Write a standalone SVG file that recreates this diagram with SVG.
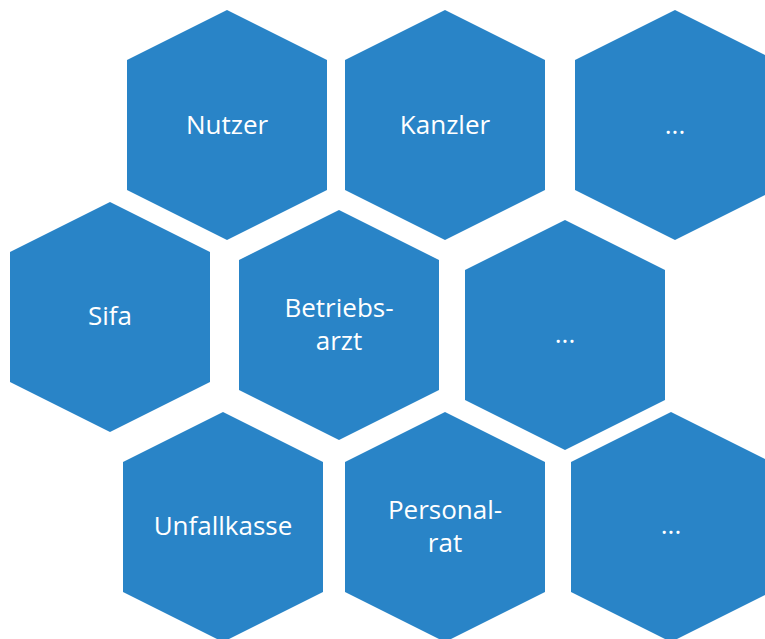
<svg xmlns="http://www.w3.org/2000/svg" width="765" height="639" viewBox="0 0 765 639">
<defs>
<style>
.hex{fill:#2984C7;}
.lbl{fill:#ffffff;font-family:"Open Sans","Liberation Sans",sans-serif;font-size:26px;text-anchor:middle;}
</style>
<polygon id="hexshape" points="0,-115 100,-65 100,65 0,115 -100,65 -100,-65"/>
</defs>
<rect width="765" height="639" fill="#ffffff"/>
<g id="connectors"/>
<g id="nutzer" transform="translate(227,125)"><use href="#hexshape" class="hex"/><text class="lbl" x="0" y="9">Nutzer</text></g>
<g id="kanzler" transform="translate(445,125)"><use href="#hexshape" class="hex"/><text class="lbl" x="0" y="9">Kanzler</text></g>
<g id="more1" transform="translate(675,125)"><use href="#hexshape" class="hex"/><text class="lbl" x="0" y="9">...</text></g>
<g id="sifa" transform="translate(110,317)"><use href="#hexshape" class="hex"/><text class="lbl" x="0" y="8">Sifa</text></g>
<g id="betriebsarzt" transform="translate(339,325)"><use href="#hexshape" class="hex"/><text class="lbl" x="0" y="-8">Betriebs-</text><text class="lbl" x="0" y="25">arzt</text></g>
<g id="more2" transform="translate(565,335)"><use href="#hexshape" class="hex"/><text class="lbl" x="0" y="8">...</text></g>
<g id="unfallkasse" transform="translate(223,527)"><use href="#hexshape" class="hex"/><text class="lbl" x="0" y="8">Unfallkasse</text></g>
<g id="personalrat" transform="translate(445,527)"><use href="#hexshape" class="hex"/><text class="lbl" x="0" y="-8">Personal-</text><text class="lbl" x="0" y="25">rat</text></g>
<g id="more3" transform="translate(671,527)"><use href="#hexshape" class="hex"/><text class="lbl" x="0" y="7">...</text></g>
</svg>
